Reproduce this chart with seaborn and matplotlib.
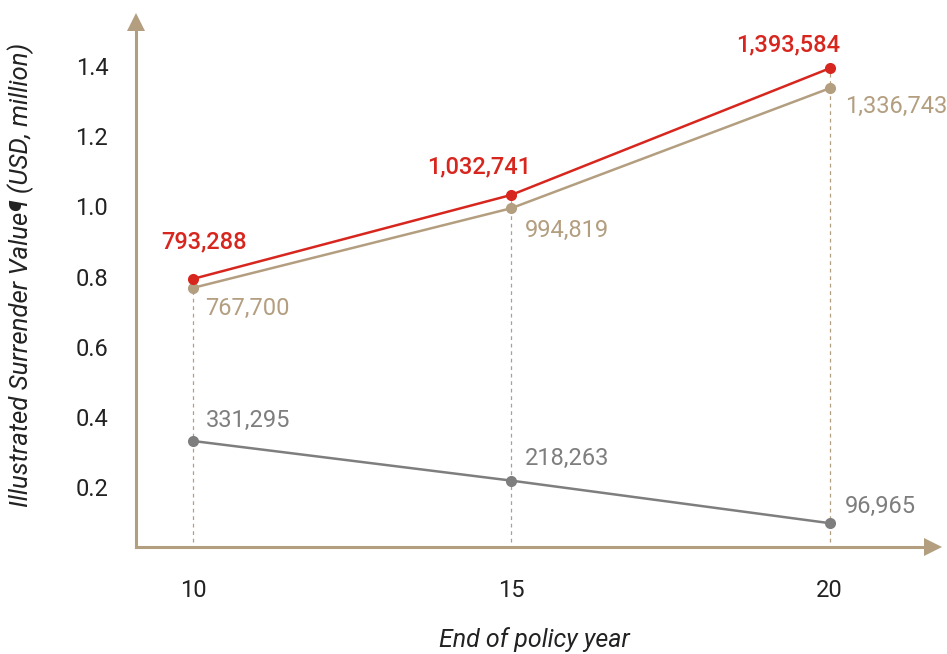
import matplotlib
matplotlib.use("Agg")
import matplotlib.pyplot as plt
import seaborn as sns
import pandas as pd

years = [10, 15, 20]
series_names = ["Total", "Guaranteed plus", "Guaranteed"]
total_values = [793288, 1032741, 1393584]
mid_values = [767700, 994819, 1336743]
low_values = [331295, 218263, 96965]
y_ticks = [0.2, 0.4, 0.6, 0.8, 1.0, 1.2, 1.4]

RED = "#D7261E"
TAN = "#B39E80"
GREY = "#7E7E7E"
AXC = "#B39E80"

sns.set_theme(style="white")
plt.rcParams["font.family"] = ["Roboto", "DejaVu Sans"]

rows = []
for name, vals in zip(series_names, [total_values, mid_values, low_values]):
    for yr, v in zip(years, vals):
        rows.append({"year": yr, "value": v / 1e6, "series": name})
df = pd.DataFrame(rows)

fig = plt.figure(figsize=(9.47, 6.54), dpi=100)
ax = fig.add_axes([0.1436, 0.1636, 0.985 - 0.1436, 0.966 - 0.1636])

# dashed guides
for yr, v in zip(years, total_values):
    ax.plot([yr, yr], [0, v / 1e6], color=TAN, lw=0.9, ls=(0, (3, 3)), zorder=1)

palette = {"Total": RED, "Guaranteed plus": TAN, "Guaranteed": GREY}
order = ["Guaranteed", "Guaranteed plus", "Total"]
sns.lineplot(data=df, x="year", y="value", hue="series", hue_order=order,
             palette=palette, marker="o", markersize=8, markeredgewidth=0,
             linewidth=1.8, legend=False, ax=ax, zorder=3)

ax.set_xlim(9.105, 21.62)
ax.set_ylim(0.029, 1.525)
ax.set_xticks(years)
ax.set_xticklabels([str(y) for y in years])
ax.set_yticks(y_ticks)
ax.set_yticklabels([f"{t:.1f}" for t in y_ticks])

for s in ["top", "right"]:
    ax.spines[s].set_visible(False)
for s in ["left", "bottom"]:
    ax.spines[s].set_color(AXC)
    ax.spines[s].set_linewidth(2.2)

ax.tick_params(axis="both", which="major", direction="out", colors=AXC,
               labelcolor="#222222", labelsize=17)
ax.tick_params(axis="y", length=10, width=2, pad=10)
ax.tick_params(axis="x", length=12, width=2, pad=11)

# arrows
ax.plot([0], [1], marker="^", markersize=13, color=AXC, transform=ax.transAxes,
        clip_on=False, markeredgewidth=0)
ax.plot([1], [0], marker=">", markersize=13, color=AXC, transform=ax.transAxes,
        clip_on=False, markeredgewidth=0)

def fmt(v):
    return f"{v:,}"

FS = 17
# red labels (above-left)
red_off = [(8, 27), (-23, 20), (-30, 17)]
for yr, v, off in zip(years, total_values, red_off):
    ax.annotate(fmt(v), (yr, v / 1e6), xytext=off, textcoords="offset points",
                ha="center", va="center", color=RED, fontsize=FS, fontweight="medium")
# tan labels (below-right)
tan_off = [(9, -15), (10, -16), (11, -13)]
for yr, v, off in zip(years, mid_values, tan_off):
    ax.annotate(fmt(v), (yr, v / 1e6), xytext=off, textcoords="offset points",
                ha="left", va="center", color=TAN, fontsize=FS)
# grey labels (above-right)
grey_off = [(9, 15), (10, 16), (11, 12)]
for yr, v, off in zip(years, low_values, grey_off):
    ax.annotate(fmt(v), (yr, v / 1e6), xytext=off, textcoords="offset points",
                ha="left", va="center", color=GREY, fontsize=FS)

ax.set_xlabel("End of policy year", fontsize=18, style="italic", color="#222222", labelpad=18)
ax.set_ylabel("Illustrated Surrender Value\u00b6 (USD, million)", fontsize=18.5,
              style="italic", color="#222222")
ax.yaxis.set_label_coords(-0.128, 0.518)

fig.savefig("out.png", dpi=100)
